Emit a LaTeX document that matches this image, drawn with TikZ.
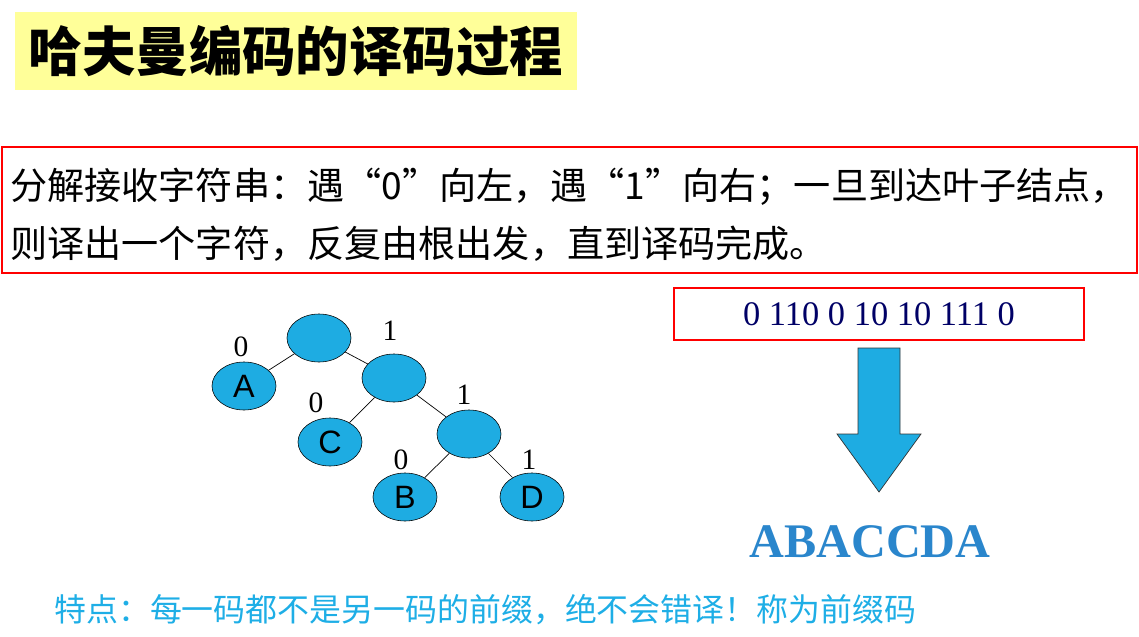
\documentclass[tikz,border=0pt]{standalone}
\usepackage{fontspec}
\usetikzlibrary{shapes.geometric,positioning}
\newfontfamily\cjk{Noto Sans CJK SC}
\newfontfamily\serifnum{Liberation Serif}
\newfontfamily\sansltr{Liberation Sans}
\definecolor{titlebg}{RGB}{255,255,153}
\definecolor{nodeblue}{RGB}{30,172,226}
\definecolor{boxred}{RGB}{255,0,0}
\definecolor{codenavy}{RGB}{0,0,102}
\definecolor{resultblue}{RGB}{42,134,204}
\definecolor{noteblue}{RGB}{30,174,230}
\tikzset{
  treenode/.style={ellipse, draw=black, line width=0.4pt, fill=nodeblue,
    minimum width=1.6cm, minimum height=1.2cm, inner sep=0pt,
    font=\sansltr\fontsize{23}{23}\selectfont},
  bitlabel/.style={font=\serifnum\fontsize{21}{21}\selectfont},
  redbox/.style={draw=boxred, line width=2pt},
  treeedge/.style={draw=black, line width=0.5pt}
}
\begin{document}
\begin{tikzpicture}[x=0.025cm, y=-0.025cm]
        \useasboundingbox (0,0) rectangle (1139,637);
        % title
        \node[fill=titlebg, minimum width=14.05cm, minimum height=1.95cm, inner sep=0pt,
          font=\cjk\bfseries\fontsize{38}{38}\selectfont] (title) at (296,51) {哈夫曼编码的译码过程};
        % rule box
        \draw[redbox] (2,147) rectangle (1137,273);
        \node[anchor=west, inner sep=0pt, font=\cjk\fontsize{26.4}{26.4}\selectfont] (ruleA) at (10,187)
          {分解接收字符串：遇“0”向左，遇“1”向右；一旦到达叶子结点，};
        \node[anchor=west, inner sep=0pt, font=\cjk\fontsize{26.4}{26.4}\selectfont] (ruleB) at (10,244)
          {则译出一个字符，反复由根出发，直到译码完成。};
        % tree
        \node[treenode] (root) at (319,338) {};
        \node[treenode] (A) at (244,386) {A};
        \node[treenode] (n1) at (394,378) {};
        \node[treenode] (C) at (330,442) {C};
        \node[treenode] (n2) at (469,434) {};
        \node[treenode] (B) at (405,497) {B};
        \node[treenode] (D) at (532,497) {D};
        \draw[treeedge] (root) -- (A);
        \draw[treeedge] (root) -- (n1);
        \draw[treeedge] (n1) -- (C);
        \draw[treeedge] (n1) -- (n2);
        \draw[treeedge] (n2) -- (B);
        \draw[treeedge] (n2) -- (D);
        \node[bitlabel] (b0) at (241,347) {0};
        \node[bitlabel] (b1) at (390,331) {1};
        \node[bitlabel] (b2) at (316,403) {0};
        \node[bitlabel] (b3) at (464,395) {1};
        \node[bitlabel] (b4) at (401,460) {0};
        \node[bitlabel] (b5) at (529,460) {1};
        % code string
        \node[redbox, minimum width=10.25cm, minimum height=1.3cm, inner sep=0pt,
          text=codenavy, font=\serifnum\fontsize{24.5}{24.5}\selectfont] (code) at (879,314)
          {0 110 0 10 10 111 0};
        % big arrow
        \draw[fill=nodeblue, draw=black!80, line width=0.5pt]
          (858,348) -- (900,348) -- (900,434) -- (921,434) -- (879,492)
          -- (837,434) -- (858,434) -- cycle;
        \node[text=resultblue, font=\serifnum\bfseries\fontsize{34.3}{34.3}\selectfont] (result) at (870,542) {ABACCDA};
        % note
        \node[anchor=west, inner sep=0pt, text=noteblue, font=\cjk\fontsize{22.7}{22.7}\selectfont] (note) at (54,610)
          {特点：每一码都不是另一码的前缀，绝不会错译！称为前缀码};
\end{tikzpicture}
\end{document}
